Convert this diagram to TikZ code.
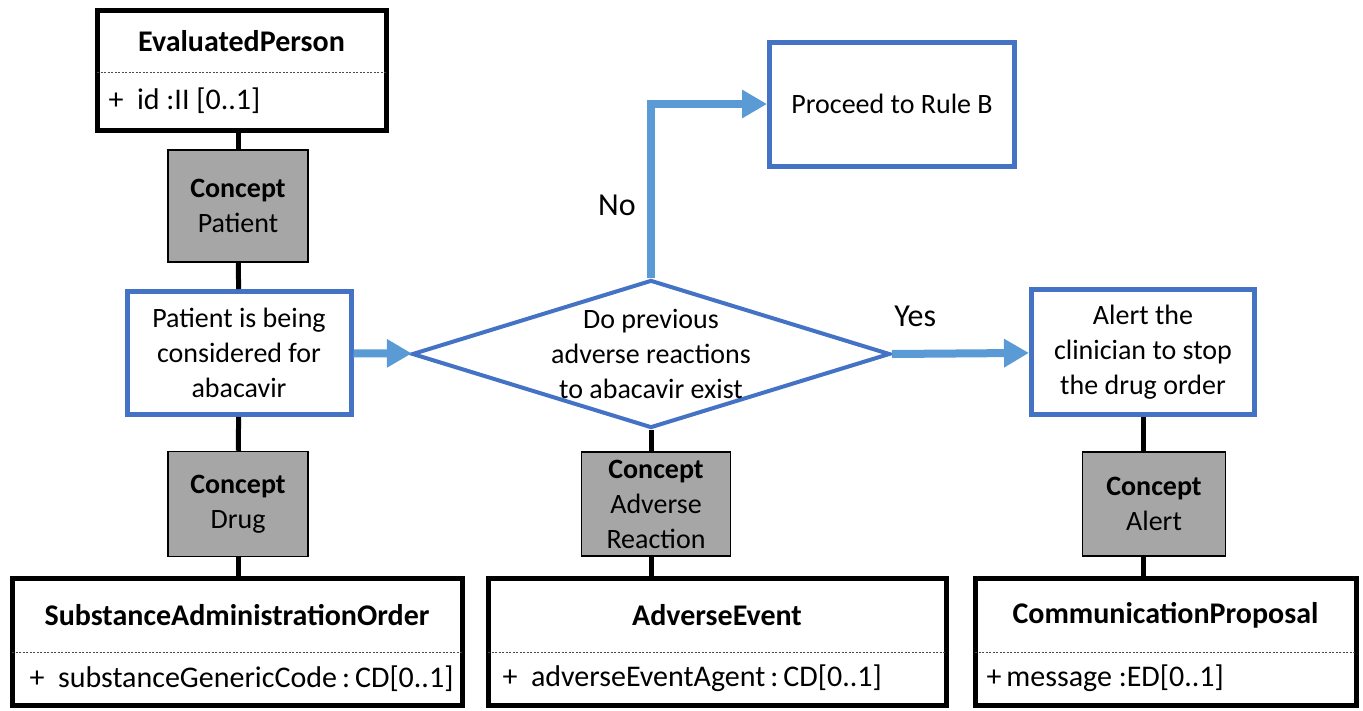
\documentclass[tikz,border=0pt]{standalone}
\usepackage{fontspec}
\setmainfont{Carlito}
\usetikzlibrary{positioning,arrows.meta,fit,calc,shapes.geometric}
\definecolor{boxblue}{RGB}{68,114,196}
\definecolor{flowblue}{RGB}{91,155,213}
\definecolor{conceptgray}{RGB}{166,166,166}
\newcommand{\umlclass}[9]{\coordinate (#1-nw) at (#2,#3);
			\coordinate (#1-se) at (#4,#5);
			\node[classbox, fit=(#1-nw)(#1-se)] (#1) {};
			\draw[separator] (#2,#6) -- (#4,#6);
			\node[classtext] (#1-title) at ($(#2,#3)!0.5!(#4,#6)$) {\textbf{#7}};
			\node[classtext, anchor=west] (#1-attr) at ($(#2,#6)!0.5!(#2,#5)+(#9,0)$) {#8};}
\tikzset{
	classbox/.style={draw, line width=5pt, inner sep=0pt},
	classtext/.style={font=\fontsize{30}{36}\selectfont},
	separator/.style={line width=0.8pt, black!70, dash pattern=on 2pt off 1.5pt},
	conceptbox/.style={draw, fill=conceptgray, line width=1.5pt, inner sep=0pt, align=center},
	stepbox/.style={draw=boxblue, line width=5pt, fill=white, inner sep=0pt, align=center},
	decision/.style={diamond, draw=boxblue, line width=4pt, inner sep=0pt},
	link/.style={line width=5pt},
	flow/.style={flowblue, line width=8pt, -{Triangle[length=25pt,width=27pt]}},
	answer/.style={black, font=\fontsize{32}{38}\selectfont}
}

\begin{document}
\begin{tikzpicture}[x=1pt, y=-1pt, font=\fontsize{28}{35}\selectfont]
	\useasboundingbox (0,0) rectangle (1363,710);

	% classes
	\umlclass{ep}{97}{10}{386}{130}{72}{EvaluatedPerson}{+~ id :II [0..1]}{8}
	\umlclass{sao}{12}{578}{462}{705}{652}{SubstanceAdministrationOrder}{+~ substanceGenericCode\,:\,CD[0..1]}{14}
	\umlclass{ae}{488}{578}{946}{705}{652}{AdverseEvent}{+~ adverseEventAgent\,:\,CD[0..1]}{11}
	\umlclass{cp}{975}{578}{1356}{705}{652}{CommunicationProposal}{+\,message :ED[0..1]}{8}

	% concepts
	\node[conceptbox, minimum width=140pt, minimum height=112pt] (cpatient) at (238,206) {\textbf{Concept}\\Patient};
	\node[conceptbox, minimum width=140pt, minimum height=105pt] (cdrug) at (238,504) {\textbf{Concept}\\Drug};
	\node[conceptbox, minimum width=149pt, minimum height=104pt] (cadverse) at (656,504) {\textbf{Concept}\\Adverse\\Reaction};
	\node[conceptbox, minimum width=143pt, minimum height=104pt] (calert) at (1154,504) {\textbf{Concept}\\Alert};

	% flow
	\node[stepbox, minimum width=224pt, minimum height=123pt] (patient) at (239,353) {Patient is being\\considered for\\abacavir};
	\node[decision, minimum width=478pt, minimum height=148pt] (dec) at (651,354) {};
	\node[align=center] (dectext) at (dec) {Do previous\\adverse reactions\\to abacavir exist};
	\node[stepbox, minimum width=245pt, minimum height=124pt] (rule) at (892,104) {Proceed to Rule B};
	\node[stepbox, minimum width=223pt, minimum height=125pt] (alert) at (1143,352) {Alert the\\clinician to stop\\the drug order};

	\draw[flow] (patient) -- (dec);
	\draw[flow] (dec.north) |- node[pos=0.21, left=8pt, answer] (no) {No} (rule.west);
	\draw[flow] (dec.east) -- node[pos=0.17, above=20pt, answer] (yes) {Yes} (alert);

	% links
	\draw[link] (cpatient.north) -- (cpatient.north |- ep.south);
	\draw[link] (cpatient) -- (patient);
	\draw[link] (patient) -- (cdrug);
	\draw[link] (cdrug.south) -- (cdrug.south |- sao.north);
	\draw[link] (dec.south) -- (dec.south |- cadverse.north);
	\draw[link] (dec.south |- cadverse.south) -- (dec.south |- ae.north);
	\draw[link] (alert.south) -- (alert.south |- calert.north);
	\draw[link] (alert.south |- calert.south) -- (alert.south |- cp.north);
\end{tikzpicture}
\end{document}
